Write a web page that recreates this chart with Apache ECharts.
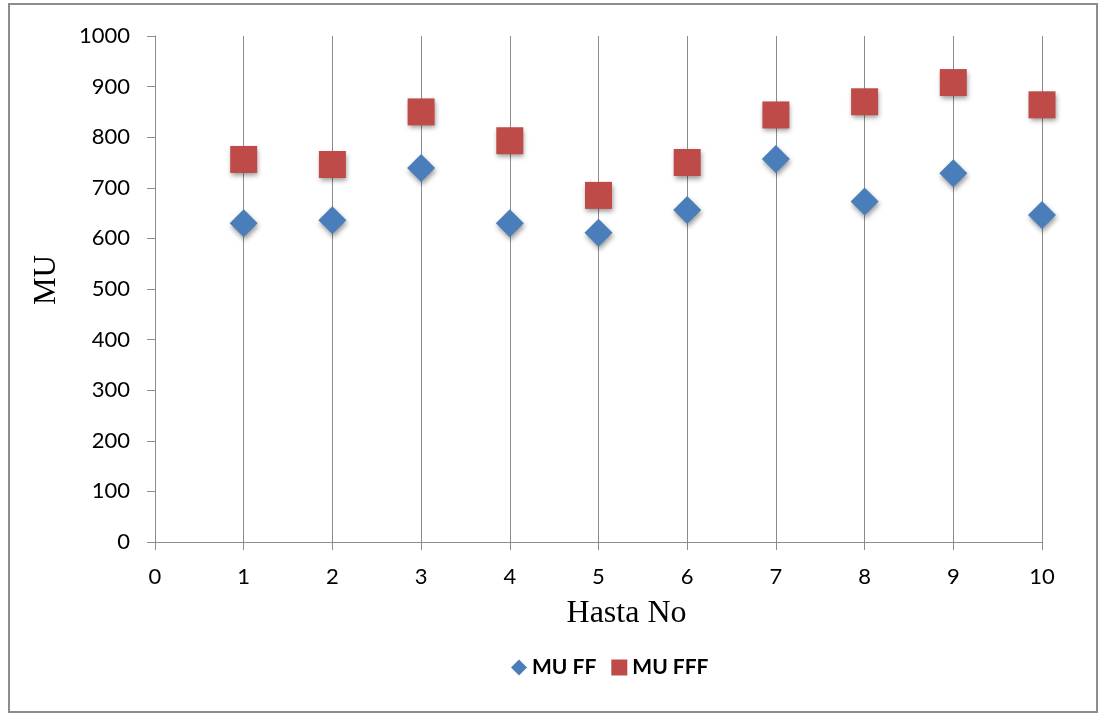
<!DOCTYPE html>
<html>
<head>
<meta charset="utf-8">
<script src="https://cdn.jsdelivr.net/npm/echarts@6/dist/echarts.min.js"></script>
<style>
html,body{margin:0;padding:0;background:#fff;}
#frame{position:absolute;left:8px;top:3px;width:1090px;height:710px;border:2px solid #8c8c8c;box-sizing:border-box;}
#chart{position:absolute;left:0;top:0;width:1107px;height:720px;}
</style>
</head>
<body>
<div id="frame"></div>
<div id="chart"></div>
<script>
// Hasta numbers and MU values per series
const hastaNo = [1, 2, 3, 4, 5, 6, 7, 8, 9, 10];
const muFF  = [630, 636, 739, 630, 611, 656, 757, 673, 729, 646];
const muFFF = [756, 746, 850, 793, 685, 750, 844, 870, 908, 864];
const seriesNames = ['MU FF', 'MU FFF'];

const chart = echarts.init(document.getElementById('chart'), null, {renderer: 'canvas'});
const tickFont = {fontFamily: 'Lato', fontSize: 22, color: '#000'};
const shadow = {shadowBlur: 5, shadowOffsetX: 1, shadowOffsetY: 3, shadowColor: 'rgba(0,0,0,0.4)'};
const plain = v => String(v);

chart.setOption({
  animation: false,
  grid: {left: 155, right: 65, top: 36, bottom: 178, containLabel: false},
  legend: {
    top: 652, left: 506, itemWidth: 16, itemHeight: 16, itemGap: 15,
    textStyle: {fontFamily: 'Lato', fontSize: 21, color: '#000', fontWeight: 'bold'},
    data: [{name: seriesNames[0], icon: 'diamond'}, {name: seriesNames[1], icon: 'rect'}]
  },
  xAxis: {
    type: 'value', min: 0, max: 10, interval: 1,
    name: 'Hasta No', nameLocation: 'middle', nameGap: 56,
    nameTextStyle: {fontFamily: 'Liberation Serif', fontSize: 32, color: '#000', padding: [0, 0, 0, 56]},
    axisLine: {lineStyle: {color: '#8c8c8c', width: 1}},
    axisTick: {show: true, length: 8, inside: false, lineStyle: {color: '#8c8c8c'}},
    axisLabel: Object.assign({margin: 24, formatter: plain}, tickFont),
    splitLine: {show: true, lineStyle: {color: '#8c8c8c', width: 1}}
  },
  yAxis: {
    type: 'value', min: 0, max: 1000, interval: 100,
    name: 'MU', nameLocation: 'middle', nameGap: 93, nameRotate: 90,
    nameTextStyle: {fontFamily: 'Liberation Serif', fontSize: 31, color: '#000', padding: [0, 0, 0, 18]},
    axisLine: {show: true, lineStyle: {color: '#8c8c8c', width: 1}},
    axisTick: {show: true, length: 8, lineStyle: {color: '#8c8c8c'}},
    axisLabel: Object.assign({margin: 25, formatter: plain}, tickFont),
    splitLine: {show: false}
  },
  series: [
    {
      name: seriesNames[0], type: 'scatter', symbol: 'diamond', symbolSize: 28,
      itemStyle: Object.assign({color: '#4a7ebb', opacity: 1}, shadow),
      data: hastaNo.map((x, i) => [x, muFF[i]])
    },
    {
      name: seriesNames[1], type: 'scatter', symbol: 'rect', symbolSize: 27,
      itemStyle: Object.assign({color: '#be4b48', opacity: 1}, shadow),
      data: hastaNo.map((x, i) => [x, muFFF[i]])
    }
  ]
});
</script>
</body>
</html>
